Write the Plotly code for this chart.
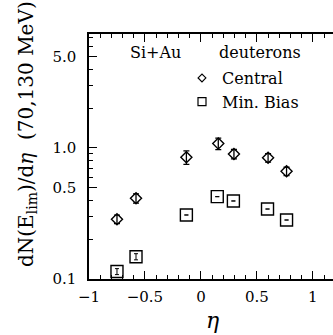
import plotly.graph_objects as go

eta_central = [-0.75, -0.58, -0.13, 0.155, 0.295, 0.60, 0.765]
val_central = [0.286, 0.413, 0.849, 1.08, 0.90, 0.843, 0.664]
err_central = [0.021, 0.034, 0.10, 0.11, 0.074, 0.062, 0.049]

eta_minbias = [-0.75, -0.58, -0.13, 0.146, 0.29, 0.595, 0.765]
val_minbias = [0.114, 0.148, 0.308, 0.425, 0.394, 0.342, 0.282]
err_minbias = [0.006, 0.008, 0.0, 0.0, 0.0, 0.0, 0.0]

y_ticks = [0.1, 0.5, 1.0, 5.0]
y_ticktext = ["0.1", "0.5", "1.0", "5.0"]
y_minor = [0.2, 0.3, 0.4, 0.6, 0.7, 0.8, 0.9, 2, 3, 4, 6, 7]
x_ticks = [-1, -0.5, 0, 0.5, 1]
x_ticktext = ["\u22121", "\u22120.5", "0", "0.5", "1"]

FONT = "DejaVu Serif"
W, H = 333, 335
L, R, T, B = 89, 0, 34, 56
PW, PH = W - L - R, H - T - B


def px(xp):
    return (xp - L) / PW


def py(yp):
    return (H - B - yp) / PH


fig = go.Figure()
fig.add_trace(go.Scatter(
    x=eta_central, y=val_central, mode="markers", name="Central", showlegend=False,
    marker=dict(symbol="diamond-open", size=8.5, color="black", line=dict(width=1.4, color="black")),
    error_y=dict(type="data", array=err_central, color="black", thickness=1.3, width=3),
))
fig.add_trace(go.Scatter(
    x=eta_minbias, y=val_minbias, mode="markers", name="Min. Bias", showlegend=False,
    marker=dict(symbol="square-open", size=12, color="black", line=dict(width=1.4, color="black")),
    error_y=dict(type="data", array=err_minbias, color="black", thickness=1.0, width=2),
))
# legend entries (no data points)
fig.add_trace(go.Scatter(
    x=[None], y=[None], mode="markers", name="Central",
    marker=dict(symbol="diamond-open", size=6, color="black", line=dict(width=1.2, color="black")),
))
fig.add_trace(go.Scatter(
    x=[None], y=[None], mode="markers", name="Min. Bias",
    marker=dict(symbol="square-open", size=8, color="black", line=dict(width=1.2, color="black")),
))

fig.update_layout(
    width=W, height=H,
    margin=dict(l=L, r=R, t=T, b=B),
    paper_bgcolor="white", plot_bgcolor="white",
    font=dict(family=FONT, size=15, color="black"),
    legend=dict(x=px(182), y=py(61), xanchor="left", yanchor="top",
                bgcolor="rgba(0,0,0,0)", font=dict(family=FONT, size=16),
                itemsizing="trace", itemwidth=30, tracegroupgap=0),
    xaxis=dict(range=[-1, 1.18], showgrid=False, zeroline=False,
               showline=True, linecolor="black", linewidth=1.5, mirror="ticks",
               ticks="inside", ticklen=8, tickwidth=1, tickcolor="black",
               tickvals=x_ticks, ticktext=x_ticktext, ticklabelstandoff=3,
               tickfont=dict(family=FONT, size=15),
               minor=dict(dtick=0.1, ticks="inside", ticklen=4, tickcolor="black", tickwidth=1)),
    yaxis=dict(type="log", range=[-1, 0.87], showgrid=False, zeroline=False,
               showline=True, linecolor="black", linewidth=1.5,
               ticks="inside", ticklen=8, tickwidth=1, tickcolor="black",
               tickvals=y_ticks, ticktext=y_ticktext, ticklabelstandoff=8,
               tickfont=dict(family=FONT, size=15),
               minor=dict(tickvals=y_minor, ticks="inside", ticklen=4, tickcolor="black", tickwidth=1)),
    annotations=[
        dict(text="Si+Au", x=px(128), y=py(52), xref="paper", yref="paper", showarrow=False,
             xanchor="left", yanchor="middle", font=dict(family=FONT, size=16)),
        dict(text="deuterons", x=px(217), y=py(52), xref="paper", yref="paper", showarrow=False,
             xanchor="left", yanchor="middle", font=dict(family=FONT, size=16)),
        dict(text="dN(E<sub>lim</sub>)/d<i>\u03b7</i>  (70,130 MeV)", x=px(27), y=py(134),
             xref="paper", yref="paper", showarrow=False, textangle=-90,
             xanchor="center", yanchor="middle", font=dict(family=FONT, size=20)),
        dict(text="<i>\u03b7</i>", x=px(212), y=py(320), xref="paper", yref="paper", showarrow=False,
             xanchor="center", yanchor="middle", font=dict(family=FONT, size=22)),
    ],
)

fig.write_html("out.html")
